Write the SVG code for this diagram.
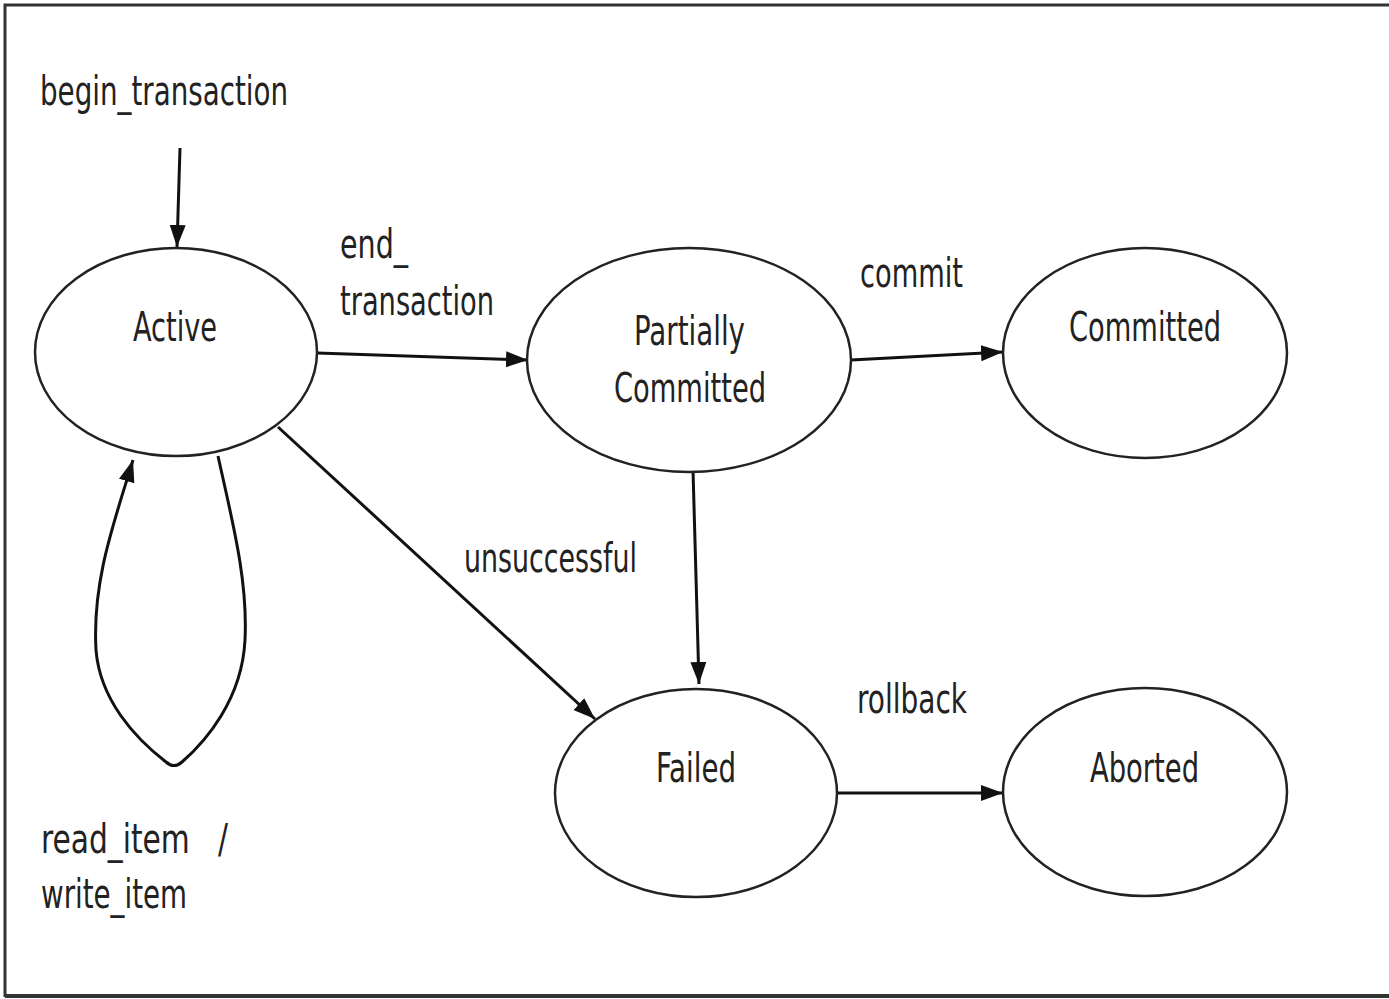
<svg xmlns="http://www.w3.org/2000/svg" width="1389" height="999" viewBox="0 0 1389 999">
<style>
.node{fill:#fff;stroke:#222;stroke-width:2.5}
.lbl{font-family:"DejaVu Sans Condensed","DejaVu Sans",sans-serif;font-size:40px;fill:#222}
.edge{fill:none;stroke:#111;stroke-width:3}
</style>
<defs>
<marker id="ah" markerUnits="userSpaceOnUse" markerWidth="24" markerHeight="20" refX="22" refY="10" orient="auto">
<path d="M0,2 L22,10 L0,18 Z" fill="#111"/>
</marker>
</defs>
<rect x="0" y="0" width="1389" height="999" fill="#fff"/>
<path d="M5,997 L5,5 L1389,5" fill="none" stroke="#333" stroke-width="3"/>
<line x1="5" y1="996" x2="1389" y2="996" stroke="#333" stroke-width="4"/>
<g id="connectors">
<line class="edge" x1="180" y1="148" x2="177" y2="247" marker-end="url(#ah)"/>
<line class="edge" x1="317" y1="353" x2="528" y2="360" marker-end="url(#ah)"/>
<line class="edge" x1="851" y1="360" x2="1003" y2="352" marker-end="url(#ah)"/>
<line class="edge" x1="693" y1="470" x2="699" y2="684" marker-end="url(#ah)"/>
<line class="edge" x1="278" y1="427" x2="595" y2="719" marker-end="url(#ah)"/>
<line class="edge" x1="837" y1="793" x2="1003" y2="793" stroke="#333" stroke-width="5" marker-end="url(#ah)"/>
<path class="edge" d="M218,456 C232,520 248,580 245,640 C242,700 205,742 182,762 Q174,769 166,762 C135,738 100,700 96,650 C92,580 115,520 133,460" marker-end="url(#ah)"/>
</g>
<g id="label-begin"><text class="lbl" x="40" y="105" textLength="248" lengthAdjust="spacingAndGlyphs">begin_transaction</text></g>
<g id="node-active">
<ellipse class="node" cx="176" cy="352" rx="141" ry="104"/>
<text class="lbl" x="133" y="341" textLength="84" lengthAdjust="spacingAndGlyphs">Active</text>
</g>
<g id="label-end">
<text class="lbl" x="340" y="258" textLength="68" lengthAdjust="spacingAndGlyphs">end_</text>
<text class="lbl" x="340" y="315" textLength="154" lengthAdjust="spacingAndGlyphs">transaction</text>
</g>
<g id="node-partially">
<ellipse class="node" cx="689" cy="360" rx="162" ry="112"/>
<text class="lbl" x="634" y="345" textLength="111" lengthAdjust="spacingAndGlyphs">Partially</text>
<text class="lbl" x="614" y="402" textLength="152" lengthAdjust="spacingAndGlyphs">Committed</text>
</g>
<g id="label-commit"><text class="lbl" x="860" y="287" textLength="103" lengthAdjust="spacingAndGlyphs">commit</text></g>
<g id="node-committed">
<ellipse class="node" cx="1145" cy="353" rx="142" ry="105"/>
<text class="lbl" x="1069" y="341" textLength="152" lengthAdjust="spacingAndGlyphs">Committed</text>
</g>
<g id="label-unsuccessful"><text class="lbl" x="464" y="572" textLength="173" lengthAdjust="spacingAndGlyphs">unsuccessful</text></g>
<g id="node-failed">
<ellipse class="node" cx="696" cy="793" rx="141" ry="104"/>
<text class="lbl" x="656" y="782" textLength="80" lengthAdjust="spacingAndGlyphs">Failed</text>
</g>
<g id="label-rollback"><text class="lbl" x="857" y="713" textLength="110" lengthAdjust="spacingAndGlyphs">rollback</text></g>
<g id="node-aborted">
<ellipse class="node" cx="1145" cy="792" rx="142" ry="104"/>
<text class="lbl" x="1090" y="782" textLength="109" lengthAdjust="spacingAndGlyphs">Aborted</text>
</g>
<g id="label-readwrite">
<text class="lbl" x="41" y="853" xml:space="preserve" style="white-space:pre" textLength="187" lengthAdjust="spacingAndGlyphs">read_item   /</text>
<text class="lbl" x="41" y="908" textLength="146" lengthAdjust="spacingAndGlyphs">write_item</text>
</g>
</svg>
